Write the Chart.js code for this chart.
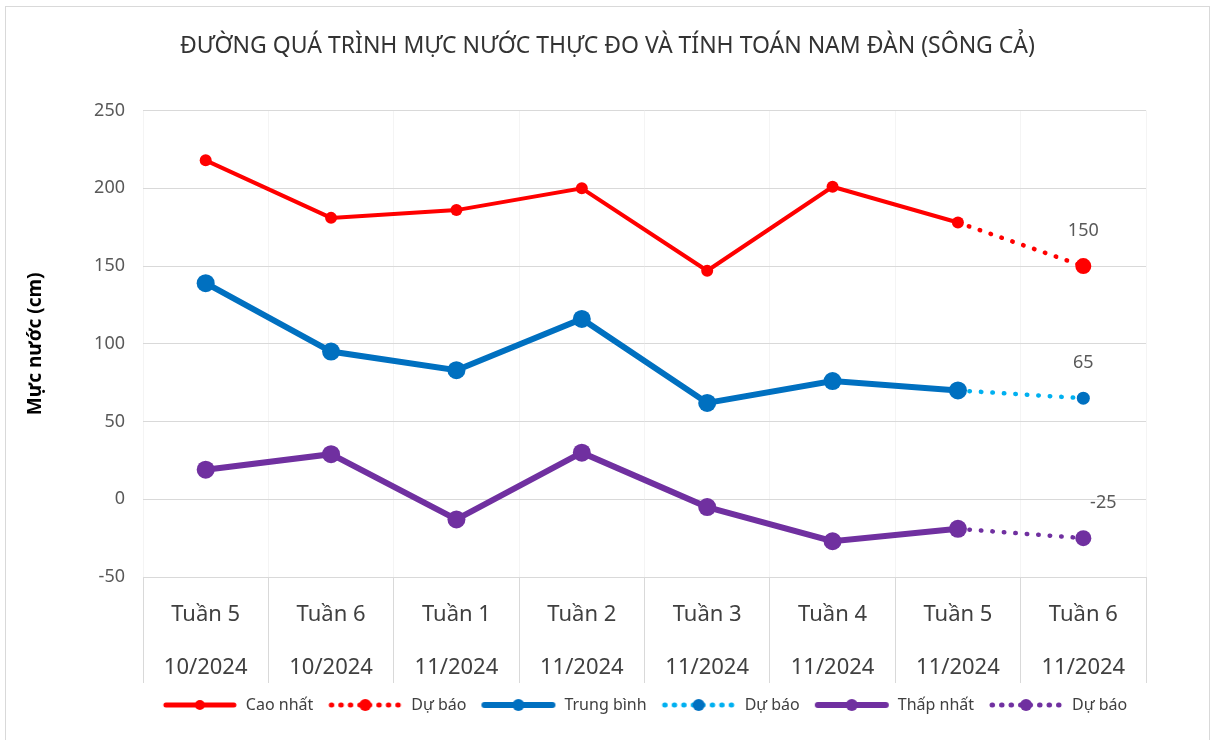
<!DOCTYPE html>
<html>
<head>
<meta charset="utf-8">
<script src="https://cdn.jsdelivr.net/npm/chart.js@4"></script>
<style>
  html, body { margin: 0; padding: 0; background: #fff; overflow: hidden; }
  #wrap { position: relative; width: 1215px; height: 740px; }
  #frame { position: absolute; left: 5px; top: 6px; right: 5px; bottom: -10px; border: 1px solid #d9d9d9; pointer-events: none; }
</style>
</head>
<body>
<div id="wrap">
  <canvas id="chart"></canvas>
  <div id="frame"></div>
</div>
<script>
// Chart data
const weekLabels = ['Tuần 5', 'Tuần 6', 'Tuần 1', 'Tuần 2', 'Tuần 3', 'Tuần 4', 'Tuần 5', 'Tuần 6'];
const monthLabels = ['10/2024', '10/2024', '11/2024', '11/2024', '11/2024', '11/2024', '11/2024', '11/2024'];
const yTicks = [-50, 0, 50, 100, 150, 200, 250];

const highObserved = [218, 181, 186, 200, 147, 201, 178, null];
const highForecast = [null, null, null, null, null, null, 178, 150];
const avgObserved = [139, 95, 83, 116, 62, 76, 70, null];
const avgForecast = [null, null, null, null, null, null, 70, 65];
const lowObserved = [19, 29, -13, 30, -5, -27, -19, null];
const lowForecast = [null, null, null, null, null, null, -19, -25];

const seriesNames = ['Cao nhất', 'Dự báo', 'Trung bình', 'Dự báo', 'Thấp nhất', 'Dự báo'];

const RED = '#ff0000';
const BLUE = '#0070c0';
const CYAN = '#00b0f0';
const PURPLE = '#7030a0';
const FONT = '"Noto Sans", "Open Sans", sans-serif';

const categories = weekLabels.map((w, i) => [w, monthLabels[i]]);

// small canvas used as legend symbol: line (solid or dotted) with a marker in the middle
function legendIcon(lineColor, markerColor, dotted, lineW, r) {
  const c = document.createElement('canvas');
  c.width = 76; c.height = 18;
  const g = c.getContext('2d');
  g.strokeStyle = lineColor;
  g.lineWidth = lineW;
  g.lineCap = 'round';
  if (dotted) g.setLineDash([0.5, 9]);
  g.beginPath();
  g.moveTo(4, 9);
  g.lineTo(72, 9);
  g.stroke();
  g.setLineDash([]);
  g.fillStyle = markerColor;
  g.beginPath();
  g.arc(38, 9, r, 0, Math.PI * 2);
  g.fill();
  return c;
}

const icons = [
  legendIcon(RED, RED, false, 5, 5),
  legendIcon(RED, RED, true, 5, 6),
  legendIcon(BLUE, BLUE, false, 6, 6),
  legendIcon(CYAN, BLUE, true, 5, 6),
  legendIcon(PURPLE, PURPLE, false, 6, 6),
  legendIcon(PURPLE, PURPLE, true, 5, 6)
];

const lastOnly = (r) => (ctx) => ctx.dataIndex === 7 ? r : 0;

function solidSet(name, data, color, width, radius) {
  return {
    label: name, data: data,
    borderColor: color, backgroundColor: color,
    borderWidth: width, pointRadius: radius,
    pointBackgroundColor: color, pointBorderColor: color, pointBorderWidth: 0,
    tension: 0
  };
}

function forecastSet(name, data, lineColor, markerColor, radius) {
  return {
    label: name, data: data,
    borderColor: lineColor, backgroundColor: markerColor,
    borderWidth: 4.5, borderDash: [0.5, 11], borderCapStyle: 'round',
    pointRadius: lastOnly(radius),
    pointBackgroundColor: markerColor, pointBorderColor: markerColor, pointBorderWidth: 0,
    tension: 0
  };
}

// value labels on the forecast end points
const forecastLabels = {
  id: 'forecastLabels',
  afterDatasetsDraw(chart) {
    const ctx = chart.ctx;
    const shifts = { 1: 0, 3: 0, 5: 20 };
    ctx.save();
    ctx.font = '18px ' + FONT;
    ctx.fillStyle = '#595959';
    ctx.textAlign = 'center';
    ctx.textBaseline = 'middle';
    Object.keys(shifts).forEach(di => {
      const meta = chart.getDatasetMeta(+di);
      const pt = meta.data[7];
      ctx.fillText(String(chart.data.datasets[di].data[7]), pt.x + shifts[di], pt.y - 35);
    });
    ctx.restore();
  }
};

const chart = new Chart(document.getElementById('chart'), {
  type: 'line',
  data: {
    labels: categories,
    datasets: [
      solidSet(seriesNames[0], highObserved, RED, 4, 6),
      forecastSet(seriesNames[1], highForecast, RED, RED, 8),
      solidSet(seriesNames[2], avgObserved, BLUE, 6, 9),
      forecastSet(seriesNames[3], avgForecast, CYAN, BLUE, 6.5),
      solidSet(seriesNames[4], lowObserved, PURPLE, 6, 9),
      forecastSet(seriesNames[5], lowForecast, PURPLE, PURPLE, 8)
    ]
  },
  options: {
    responsive: true,
    maintainAspectRatio: false,
    animation: false,
    events: [],
    layout: { padding: { left: 8, right: 8, top: 0, bottom: 17 } },
    plugins: {
      title: {
        display: true,
        text: 'ĐƯỜNG QUÁ TRÌNH MỰC NƯỚC THỰC ĐO VÀ TÍNH TOÁN NAM ĐÀN (SÔNG CẢ)',
        color: '#333333',
        font: { family: FONT, size: 23, weight: 'normal' },
        padding: { top: 33, bottom: 50 }
      },
      legend: {
        position: 'bottom',
        fullSize: false,
        labels: {
          usePointStyle: true,
          pointStyleWidth: 76,
          padding: 14,
          color: '#404040',
          font: { family: FONT, size: 16 },
          generateLabels: (c) => Chart.defaults.plugins.legend.labels.generateLabels(c)
            .map((item, i) => Object.assign(item, { pointStyle: icons[i] }))
        }
      },
      tooltip: { enabled: false }
    },
    scales: {
      x: {
        type: 'category',
        offset: true,
        grid: {
          offset: true,
          color: '#f1f1f1',
          tickColor: '#d9d9d9',
          tickLength: 106,
          lineWidth: 1
        },
        border: { display: true, color: '#d9d9d9' },
        ticks: {
          color: '#404040',
          padding: -94,
          maxRotation: 0,
          autoSkip: false,
          font: { family: FONT, size: 22, lineHeight: 2.38 }
        },
        afterFit: (s) => { s.height = 106; }
      },
      xg: {
        type: 'linear',
        position: 'top',
        min: -0.5,
        max: 7.5,
        grid: { color: '#f4f4f4', drawTicks: false },
        border: { display: false },
        ticks: { display: false, stepSize: 1 },
        afterFit: (s) => { s.height = 0; }
      },
      y: {
        min: yTicks[0],
        max: yTicks[yTicks.length - 1],
        grid: { color: '#d9d9d9', drawTicks: false },
        border: { display: false },
        afterBuildTicks: (s) => { s.ticks = yTicks.map(v => ({ value: v })); },
        ticks: {
          color: '#595959',
          padding: 18,
          font: { family: FONT, size: 18 }
        },
        title: {
          display: true,
          text: 'Mực nước (cm)',
          color: '#000000',
          font: { family: FONT, size: 19, weight: 'bold' },
          padding: { top: 16, bottom: 0 }
        },
        afterFit: (s) => { s.width = 135; }
      },
      // empty right-hand strip so the title is centred on the whole picture
      yr: {
        type: 'linear',
        position: 'right',
        grid: { drawOnChartArea: false, drawTicks: false },
        border: { display: false },
        ticks: { display: false },
        afterFit: (s) => { s.width = 61; }
      }
    }
  },
  plugins: [forecastLabels]
});
</script>
</body>
</html>
